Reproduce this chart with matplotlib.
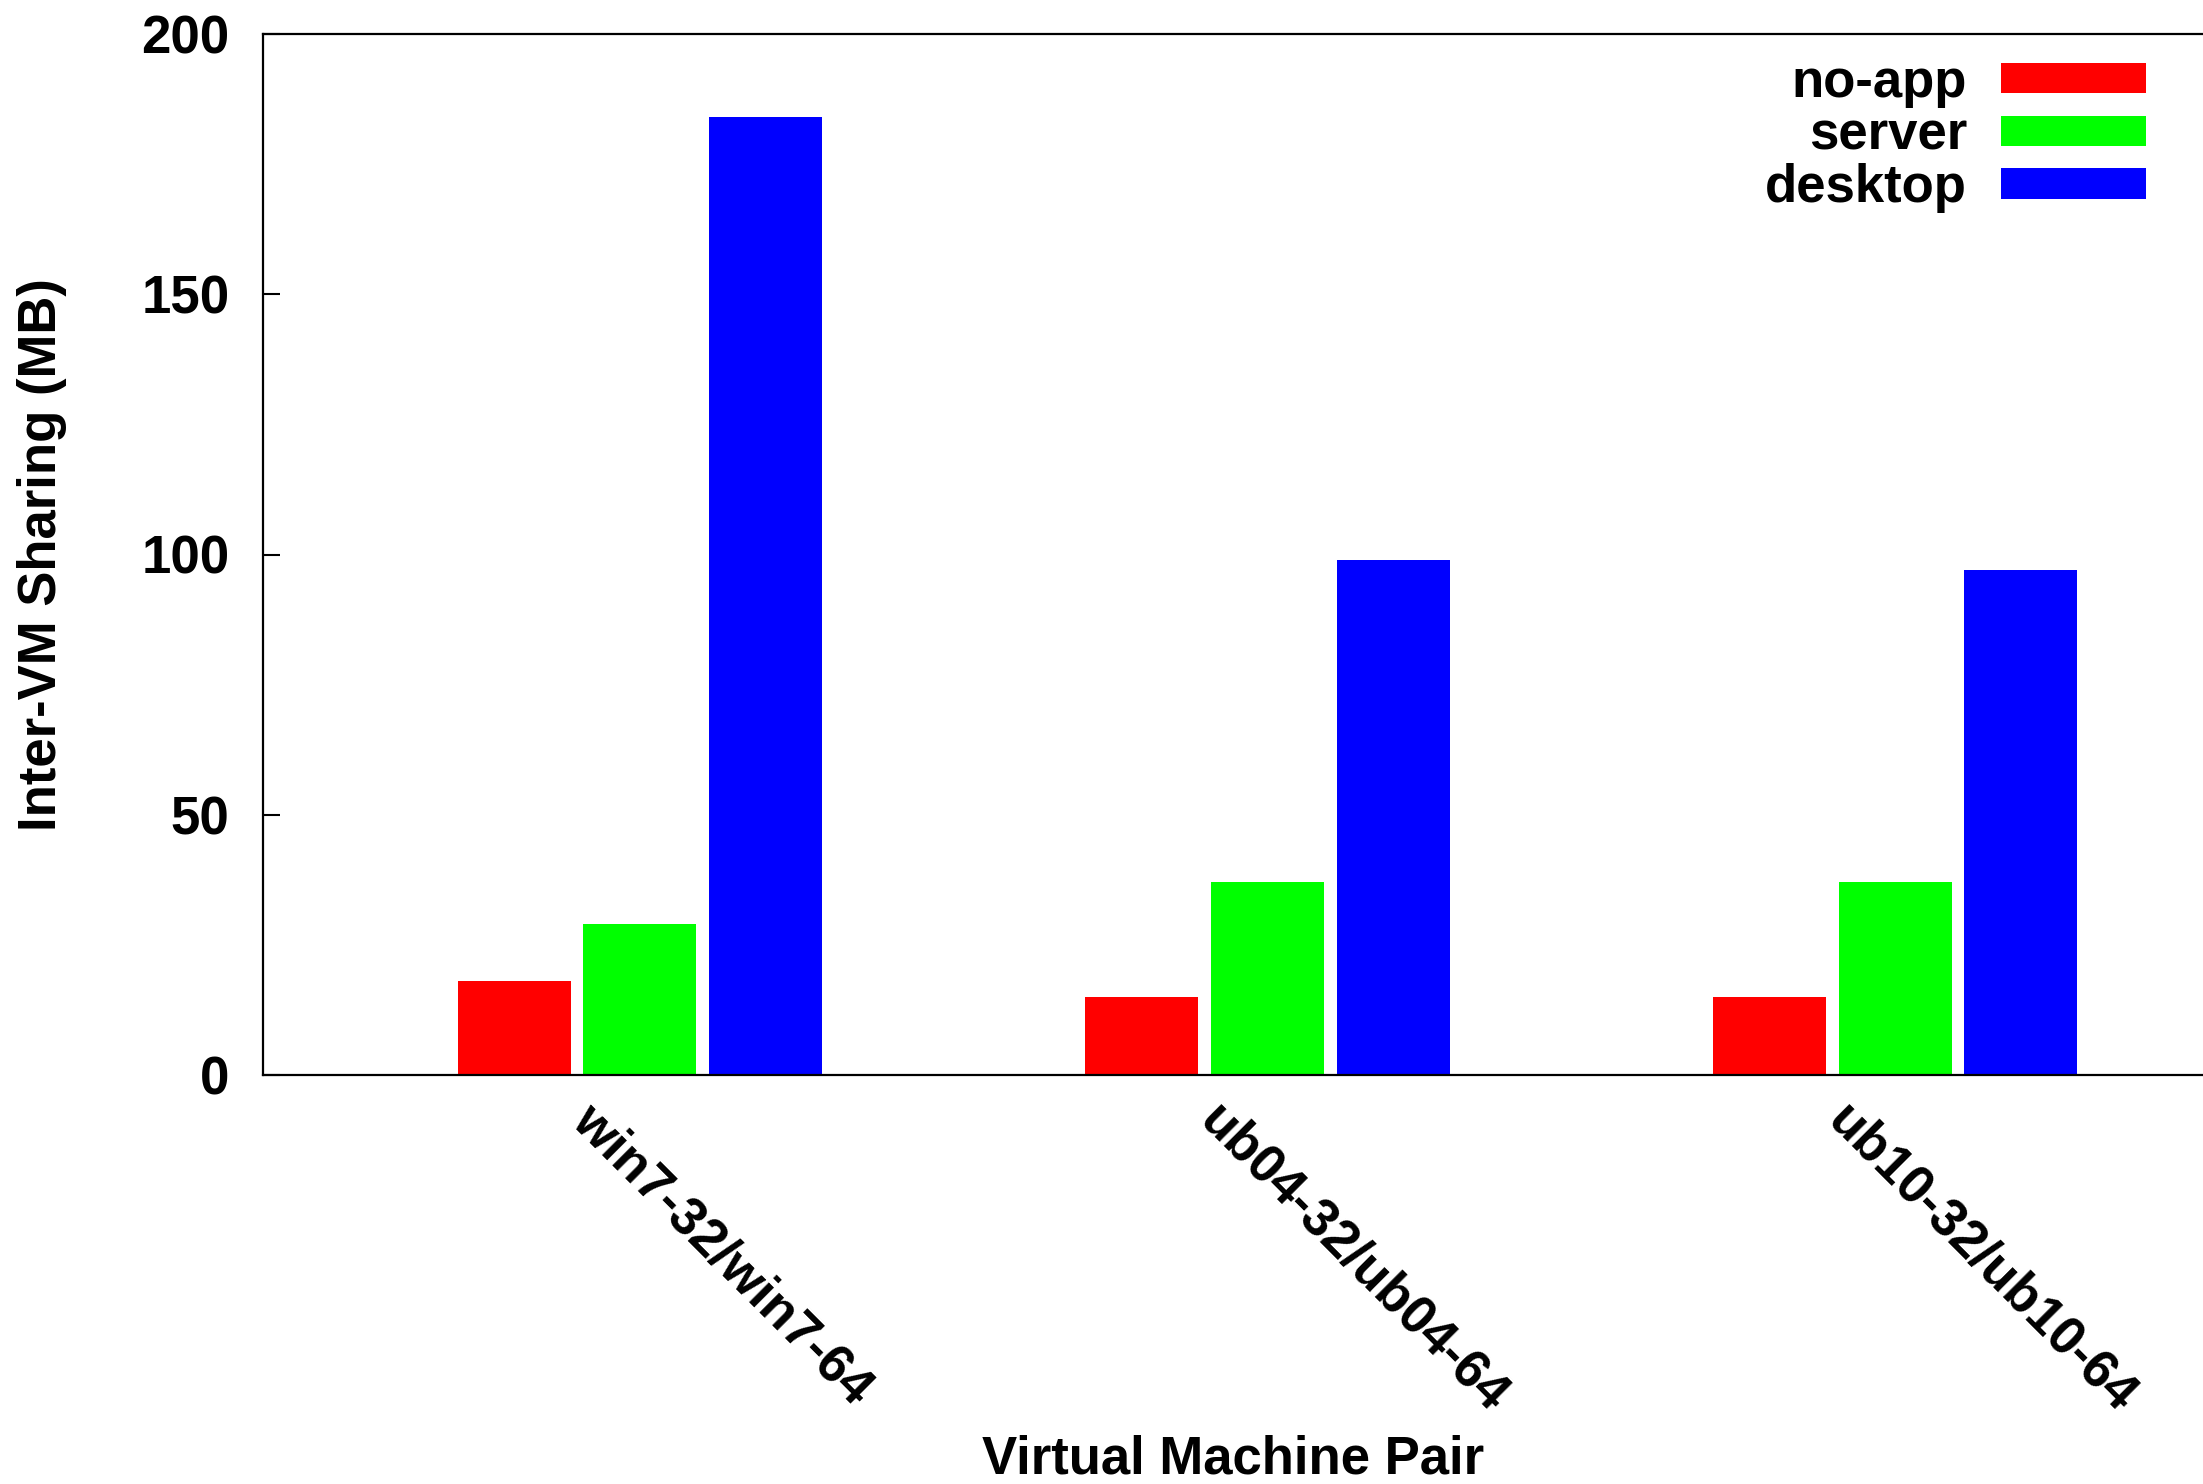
import numpy as np
import matplotlib
matplotlib.use('Agg')
import matplotlib.pyplot as plt
from matplotlib.transforms import ScaledTranslation

# data
pairs = ['win7-32/win7-64', 'ub04-32/ub04-64', 'ub10-32/ub10-64']
series = ['no-app', 'server', 'desktop']
no_app = [18, 15, 15]
server = [29, 37, 37]
desktop = [184, 99, 97]
colors = ['#ff0000', '#00ff00', '#0000ff']
y_ticks = [0, 50, 100, 150, 200]

plt.rcParams['font.family'] = ['Liberation Sans', 'DejaVu Sans']
plt.rcParams['font.weight'] = 'bold'
fs = 38

fig = plt.figure(figsize=(22.03, 14.84), dpi=100)
ax = fig.add_axes([263 / 2203, 1 - 1075 / 1484, 1 - 263 / 2203, (1075 - 34) / 1484])

x = np.arange(len(pairs))
width = 0.18
offs = [-0.2, 0.0, 0.2]
for vals, name, c, o in zip([no_app, server, desktop], series, colors, offs):
	ax.bar(x + o, vals, width, color=c, label=name, linewidth=0)

ax.set_xlim(-0.6, 2.49)
ax.set_ylim(0, 200)
ax.set_yticks(y_ticks)
ax.set_xticks([])
ax.tick_params(axis='y', direction='in', length=12, width=1.5, pad=24, labelsize=fs)
for lab in ax.get_yticklabels():
	lab.set_fontweight('bold')
for s in ['left', 'bottom', 'top']:
	ax.spines[s].set_linewidth(1.6)
ax.spines['right'].set_visible(False)

# rotated category labels, gnuplot style
off = ScaledTranslation(-0.70, -0.48, fig.dpi_scale_trans)
for i, name in enumerate(pairs):
	ax.text(x[i], 0, name, transform=ax.get_xaxis_transform() + off,
		rotation=-45, rotation_mode='anchor', ha='left', va='baseline',
		fontsize=fs, fontweight='bold')

ax.set_ylabel('Inter-VM Sharing (MB)', fontsize=fs, fontweight='bold')
ax.yaxis.set_label_coords(-0.101, 0.5)
ax.set_xlabel('Virtual Machine Pair', fontsize=fs, fontweight='bold',
	family=['Liberation Sans Narrow', 'Liberation Sans'])
ax.xaxis.set_label_coords(0.5, -0.345)

leg = ax.legend(loc='upper right', frameon=False, markerfirst=False,
	fontsize=fs, handlelength=2.75, handleheight=0.51, handletextpad=0.64,
	labelspacing=0.05, borderpad=0, borderaxespad=0)
leg.set_bbox_to_anchor((2146 / 2203, 1 - 58 / 1484), transform=fig.transFigure)
for t in leg.get_texts():
	t.set_fontweight('bold')

fig.savefig('out.png', dpi=100)
